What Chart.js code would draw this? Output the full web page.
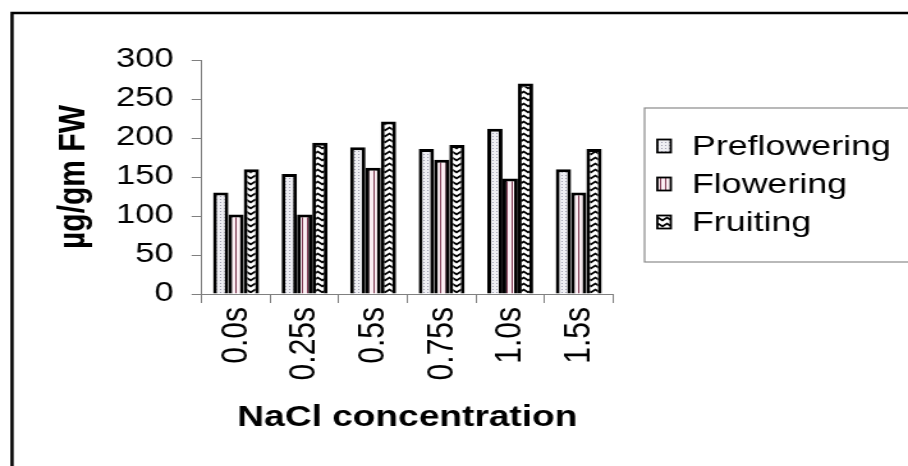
<!DOCTYPE html>
<html>
<head>
<meta charset="utf-8">
<script src="https://cdn.jsdelivr.net/npm/chart.js@4"></script>
<style>
  html, body { margin: 0; padding: 0; background: #fff; overflow: hidden; }
  /* the original chart is stretched sideways, so draw narrow and widen it */
  #wrap { width: 710px; height: 466px; transform: scaleX(1.2789); transform-origin: 0 0; }
</style>
</head>
<body>
<div id="wrap"><canvas id="chart"></canvas></div>
<script>
// data
const categories = ['0.0s', '0.25s', '0.5s', '0.75s', '1.0s', '1.5s'];
const preflowering = [130, 154, 188, 186, 212, 160];
const flowering = [102, 102, 162, 172, 148, 130];
const fruiting = [160, 194, 221, 191, 270, 186];
const yTicks = [0, 50, 100, 150, 200, 250, 300];

// fill patterns like the old Excel hatches
function makePattern(w, h, paint) {
    const c = document.createElement('canvas');
    c.width = w; c.height = h;
    const p = c.getContext('2d');
    paint(p);
    return p.createPattern(c, 'repeat');
}
const dotted = makePattern(3, 3, p => {
    p.fillStyle = '#eeeef3'; p.fillRect(0, 0, 3, 3);
    p.fillStyle = '#9c9cae'; p.fillRect(1, 1, 1, 1);
});
const striped = makePattern(4, 1, p => {
    p.fillStyle = '#fbeef3'; p.fillRect(0, 0, 4, 1);
    p.fillStyle = '#7e3a52'; p.fillRect(0, 0, 1, 1);
});
const zigzag = makePattern(7, 6, p => {
    p.fillStyle = '#fff'; p.fillRect(0, 0, 7, 6);
    p.strokeStyle = '#000'; p.lineWidth = 1.7;
    p.beginPath(); p.moveTo(-1, 5.2); p.lineTo(3.5, 1.5); p.lineTo(8, 5.2); p.stroke();
});

const frame = {
    id: 'frame',
    beforeDraw(chart) {
        const ctx = chart.ctx;
        ctx.save();
        ctx.fillStyle = '#fff';
        ctx.fillRect(0, 0, chart.width, chart.height);
        ctx.strokeStyle = '#000';
        ctx.lineWidth = 2.5;
        ctx.strokeRect(9.4, 13, 900, 600);
        ctx.restore();
    }
};

const legendBox = {
    id: 'legendBox',
    afterDraw(chart) {
        const ctx = chart.ctx;
        const rows = [146, 184, 222];
        ctx.save();
        ctx.strokeStyle = '#8a8a8a';
        ctx.lineWidth = 1.2;
        ctx.strokeRect(504, 108, 400, 154);
        chart.data.datasets.forEach((ds, i) => {
            const y = rows[i];
            ctx.fillStyle = ds.backgroundColor;
            ctx.fillRect(514, y - 6.5, 10.5, 13);
            ctx.strokeStyle = '#000';
            ctx.lineWidth = 1.8;
            ctx.strokeRect(514, y - 6.5, 10.5, 13);
            ctx.fillStyle = '#000';
            ctx.font = '28px "Liberation Sans", Arial, sans-serif';
            ctx.textBaseline = 'middle';
            ctx.fillText(ds.label, 541, y + 1);
        });
        ctx.restore();
    }
};

const barStyle = { borderColor: '#000', borderWidth: 3, borderSkipped: 'bottom' };

new Chart(document.getElementById('chart'), {
    type: 'bar',
    data: {
        labels: categories,
        datasets: [
            { label: 'Preflowering', data: preflowering, backgroundColor: dotted, ...barStyle },
            { label: 'Flowering', data: flowering, backgroundColor: striped, ...barStyle },
            { label: 'Fruiting', data: fruiting, backgroundColor: zigzag, ...barStyle }
        ]
    },
    options: {
        responsive: true,
        maintainAspectRatio: false,
        animation: false,
        layout: { padding: { left: 0, top: 60, right: 230.7, bottom: 0 } },
        datasets: { bar: { categoryPercentage: 0.67, barPercentage: 1.0 } },
        plugins: { legend: { display: false }, tooltip: { enabled: false } },
        scales: {
            x: {
                grid: { offset: true, drawOnChartArea: false, drawTicks: true, tickLength: 9, color: '#808080' },
                border: { color: '#808080', width: 1 },
                ticks: {
                    color: '#000', minRotation: 90, maxRotation: 90, autoSkip: false, padding: 4,
                    font: { family: '"Liberation Sans", Arial, sans-serif', size: 30 }
                },
                title: {
                    display: true, text: 'NaCl concentration', color: '#000',
                    font: { family: '"Liberation Sans", Arial, sans-serif', size: 29, weight: 'bold' },
                    padding: { top: 0, bottom: 31 }
                },
                afterFit(scale) { scale.height = 172; }
            },
            y: {
                min: 0, max: 300,
                afterBuildTicks(scale) { scale.ticks = yTicks.map(v => ({ value: v })); },
                grid: { drawOnChartArea: false, drawTicks: true, tickLength: 8, color: '#808080' },
                border: { color: '#808080', width: 1 },
                ticks: {
                    color: '#000', padding: 14,
                    font: { family: '"Liberation Sans", Arial, sans-serif', size: 27 }
                },
                title: {
                    display: true, text: 'µg/gm FW', color: '#000',
                    font: { family: '"Liberation Sans", Arial, sans-serif', size: 30, weight: 'bold' },
                    padding: { top: 40, bottom: 0 }
                },
                afterFit(scale) { scale.width = 157.8; }
            }
        }
    },
    plugins: [frame, legendBox]
});
</script>
</body>
</html>
